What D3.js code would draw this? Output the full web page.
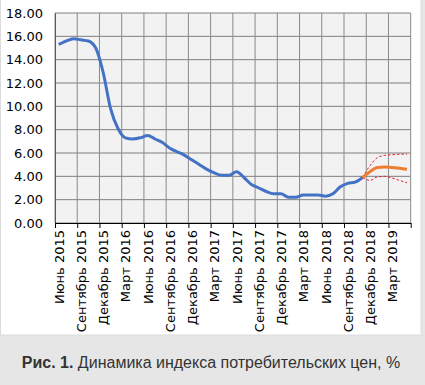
<!DOCTYPE html>
<html><head><meta charset="utf-8">
<script src="https://cdn.jsdelivr.net/npm/d3@7"></script>
<style>
html,body{margin:0;padding:0;background:#e6e6e6;}
svg{display:block;}
</style></head>
<body>
<svg id="c" width="425" height="385"></svg>
<script>
// 48 monthly categories: June 2015 .. May 2019
const categories = [
 "2015-06","2015-07","2015-08","2015-09","2015-10","2015-11","2015-12",
 "2016-01","2016-02","2016-03","2016-04","2016-05","2016-06","2016-07","2016-08","2016-09","2016-10","2016-11","2016-12",
 "2017-01","2017-02","2017-03","2017-04","2017-05","2017-06","2017-07","2017-08","2017-09","2017-10","2017-11","2017-12",
 "2018-01","2018-02","2018-03","2018-04","2018-05","2018-06","2018-07","2018-08","2018-09","2018-10","2018-11","2018-12",
 "2019-01","2019-02","2019-03","2019-04","2019-05"];
const tickLabels = ["Июнь 2015","Сентябрь 2015","Декабрь 2015","Март 2016","Июнь 2016","Сентябрь 2016","Декабрь 2016","Март 2017",
 "Июнь 2017","Сентябрь 2017","Декабрь 2017","Март 2018","Июнь 2018","Сентябрь 2018","Декабрь 2018","Март 2019"];
const yTicks = [0,2,4,6,8,10,12,14,16,18];
// actual CPI, Jun 2015 .. Nov 2018
const actual = [15.3,15.6,15.8,15.7,15.6,15.0,12.9,9.8,8.1,7.3,7.2,7.3,7.5,7.2,6.9,6.4,6.1,5.8,5.4,5.0,4.6,4.3,4.1,4.1,4.4,3.9,3.3,3.0,2.7,2.5,2.5,2.2,2.2,2.4,2.4,2.4,2.3,2.5,3.1,3.4,3.5,3.9];
// forecast, Nov 2018 .. May 2019
const forecast = [3.9,4.4,4.75,4.8,4.75,4.7,4.6];
const upper =    [3.9,4.9,5.6,5.8,5.85,5.9,5.9];
const lower =    [3.9,3.65,3.95,4.0,3.85,3.65,3.45];
const forecastStart = 41;
const caption = ["Рис. 1.", " Динамика индекса потребительских цен, %"];

const svg = d3.select("#c");
svg.append("rect").attr("x",0.5).attr("y",-1).attr("width",420.5).attr("height",336).attr("fill","#fff").attr("stroke","#dcdcdc");

const L=55, R=410.7, T=13, B=223;
const xb = d3.scaleLinear().domain([0,categories.length]).range([L,R]);
const y = d3.scaleLinear().domain([0,18]).range([B,T]);
const cx = i => xb(i+0.5);

svg.append("rect").attr("x",L).attr("y",T).attr("width",R-L).attr("height",B-T).attr("fill","#f2f2f2");

const g = svg.append("g");
g.selectAll(".hg").data(yTicks).join("line")
 .attr("x1",L).attr("x2",R).attr("y1",d=>y(d)).attr("y2",d=>y(d))
 .attr("stroke","#7f7f7f").attr("stroke-width",1);
const vt = d3.range(0,categories.length+1,3);
g.selectAll(".vg").data(vt).join("line")
 .attr("x1",d=>xb(d)).attr("x2",d=>xb(d)).attr("y1",T).attr("y2",B)
 .attr("stroke","#8a8a8a").attr("stroke-width",1);

const ya = svg.append("g").attr("transform",`translate(${L},0)`)
 .call(d3.axisLeft(y).tickValues(yTicks).tickFormat(d3.format(".2f")).tickSize(0).tickPadding(12));
ya.select(".domain").attr("stroke","#595959");
ya.selectAll("text").attr("font-family","DejaVu Sans").attr("font-size",13).attr("fill","#000");

const xt = svg.append("g").attr("transform",`translate(0,${B})`)
 .call(d3.axisBottom(xb).tickValues(vt).tickFormat("").tickSize(5).tickSizeOuter(0));
xt.selectAll("line,path").attr("stroke","#000");
const xl = svg.append("g").attr("transform",`translate(0,${B})`)
 .call(d3.axisBottom(xb).tickValues(d3.range(0.5,categories.length,3)).tickFormat((d,i)=>tickLabels[i]).tickSize(0));
xl.select(".domain").remove();
xl.selectAll("text").attr("font-family","DejaVu Sans").attr("font-size",13).attr("fill","#000")
 .attr("transform","rotate(-90)").attr("text-anchor","end").attr("x",-7).attr("y",0).attr("dy","0.35em");

const line = d3.line().x(d=>cx(d[0])).y(d=>y(d[1])).curve(d3.curveMonotoneX);
svg.append("path").datum(actual.map((v,i)=>[i,v])).attr("d",line)
 .attr("fill","none").attr("stroke","#4472c4").attr("stroke-width",3).attr("stroke-linejoin","round");
svg.append("path").datum(upper.map((v,i)=>[i+forecastStart,v])).attr("d",line)
 .attr("fill","none").attr("stroke","#e8202a").attr("stroke-width",1).attr("stroke-dasharray","2.5,2");
svg.append("path").datum(lower.map((v,i)=>[i+forecastStart,v])).attr("d",line)
 .attr("fill","none").attr("stroke","#e8202a").attr("stroke-width",1).attr("stroke-dasharray","2.5,2");
svg.append("path").datum(forecast.map((v,i)=>[i+forecastStart,v])).attr("d",line)
 .attr("fill","none").attr("stroke","#ed7d31").attr("stroke-width",3).attr("stroke-linejoin","round");

const ct = svg.append("text").attr("x",211).attr("y",368).attr("text-anchor","middle")
 .attr("font-family","Liberation Sans, Arial").attr("font-size",16).attr("fill","#333");
ct.append("tspan").attr("font-weight","bold").text(caption[0]);
ct.append("tspan").text(caption[1]);
</script>
</body></html>
